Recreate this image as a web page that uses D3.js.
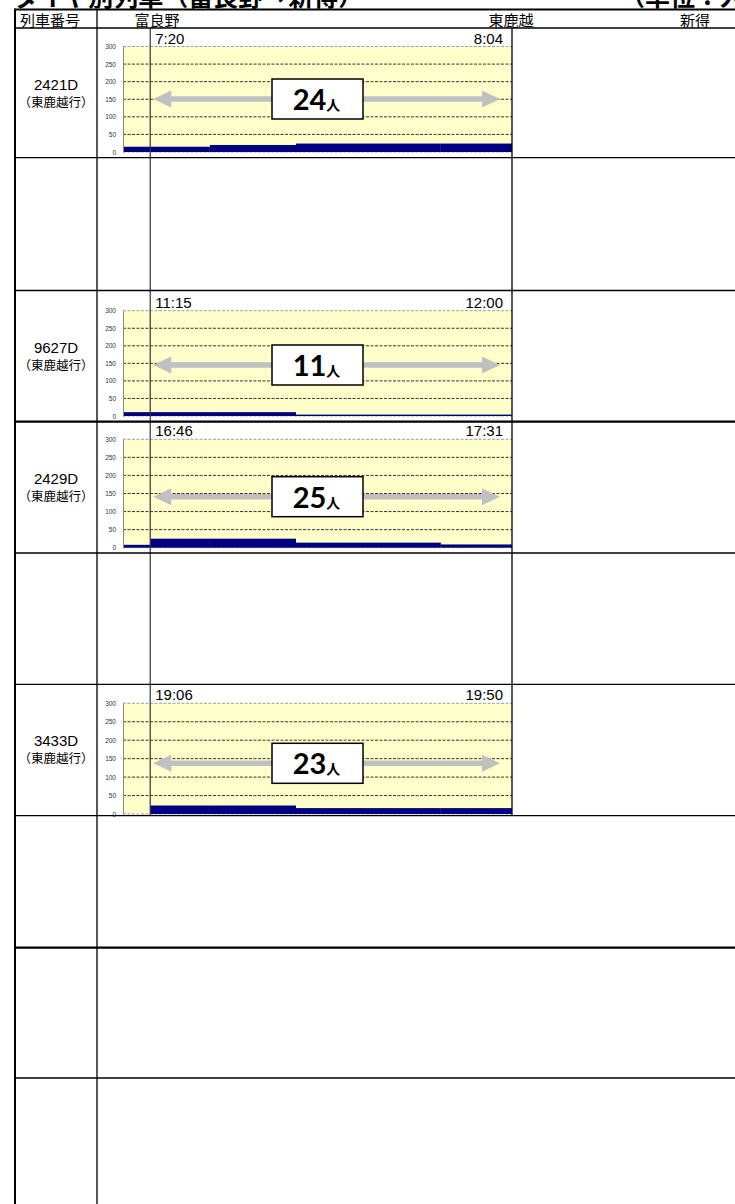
<!DOCTYPE html>
<html>
<head>
<meta charset="utf-8">
<title>列車別乗車人員</title>
<style>
body { margin: 0; background: #fff; }
svg { display: block; }
</style>
</head>
<body>
<div id="chart"></div>
<script src="https://cdn.jsdelivr.net/npm/d3@7/dist/d3.min.js"></script>
<script>

// 列車ごとの値
var trainNo = ['2421D', '9627D', '2429D', '3433D'];
var trainFor = ['（東鹿越行）', '（東鹿越行）', '（東鹿越行）', '（東鹿越行）'];
var depTime = ['7:20', '11:15', '16:46', '19:06'];
var arrTime = ['8:04', '12:00', '17:31', '19:50'];
var peakRiders = [24, 11, 25, 23];
var tableRow = [0, 2, 3, 5];   // 何段目に入るか

// 区間の境界 (富良野 = 0km) と区間ごとの乗車人員
var sectionKm = [-3.1, 0, 6.8, 16.6, 33.1, 41.2];
var riders2421D = [15, 15, 20, 24, 24];
var riders9627D = [11, 11, 11, 4, 4];
var riders2429D = [8, 25, 25, 14, 9];
var riders3433D = [0, 23, 23, 16, 16];
var riders = [riders2421D, riders9627D, riders2429D, riders3433D];

var yTicks = [0, 50, 100, 150, 200, 250, 300];
var headLabels = ['列車番号', '富良野', '東鹿越', '新得'];

// レイアウト
var W = 735, H = 1204;
var tableTop = 9.5, leftX = 15, colX = 97;
var rowY = [28, 157.7, 290.5, 421.7, 553, 684.3, 815.7, 947.7, 1078];
var rowW = [1.5, 1.3, 1.3, 2.2, 1.5, 1.3, 1.3, 2.2, 1.3];
var headX = [50, 157, 511, 695];
var plotTop = [46.5, 310.7, 439.3, 703.3];
var plotBot = [152, 416, 547.7, 814];
var arrowY = [99, 365, 496.7, 763.3];
var boxX = 272, boxW = 91, boxH = 40;

var jp = '"Noto Sans CJK JP", sans-serif';
var num = '"Liberation Sans", Arial, sans-serif';

var svg = d3.select('#chart')
  .append('svg')
  .attr('width', W)
  .attr('height', H);

var xScale = d3.scaleLinear()
  .domain([sectionKm[0], sectionKm[sectionKm.length - 1]])
  .range([123, 512]);

// タイトル (上が切れている)
svg.append('text')
  .attr('x', 14).attr('y', 6)
  .style('font-family', jp).style('font-weight', 'bold').style('font-size', '25px')
  .text('ダイヤ別列車（富良野→新得）');
svg.append('text')
  .attr('x', 620).attr('y', 6)
  .style('font-family', jp).style('font-weight', 'bold').style('font-size', '25px')
  .text('（単位：人）');

// 表の見出し
headLabels.forEach(function(t, i) {
  svg.append('text')
    .attr('x', headX[i]).attr('y', 25.5)
    .attr('text-anchor', 'middle')
    .style('font-family', jp).style('font-size', '15px')
    .text(t);
});

// 列車ごとのグラフ
trainNo.forEach(function(no, i) {
  var r = tableRow[i];
  var rowTop = rowY[r];
  var g = svg.append('g');

  var y = d3.scaleLinear()
    .domain([0, 300])
    .range([plotBot[i], plotTop[i]]);

  // 列車番号
  g.append('text')
    .attr('x', 56).attr('y', rowTop + 62)
    .attr('text-anchor', 'middle')
    .style('font-family', num).style('font-size', '15px')
    .text(no);
  g.append('text')
    .attr('x', 56).attr('y', rowTop + 79)
    .attr('text-anchor', 'middle')
    .style('font-family', jp).style('font-size', '12.5px')
    .text(trainFor[i]);

  // 背景
  g.append('rect')
    .attr('x', xScale.range()[0]).attr('y', plotTop[i])
    .attr('width', xScale.range()[1] - xScale.range()[0])
    .attr('height', plotBot[i] - plotTop[i])
    .attr('fill', '#FFFFCC');

  // 目盛線
  g.selectAll('.grid')
    .data(yTicks)
    .enter().append('line')
    .attr('x1', xScale.range()[0]).attr('x2', xScale.range()[1])
    .attr('y1', function(d) { return y(d); })
    .attr('y2', function(d) { return y(d); })
    .attr('stroke', function(d) { return (d == 0 || d == 300) ? '#888' : '#000'; })
    .attr('stroke-width', 0.8)
    .attr('stroke-dasharray', '3,1.5');

  // 乗車人員
  g.selectAll('.bar')
    .data(riders[i])
    .enter().append('rect')
    .attr('x', function(d, j) { return xScale(sectionKm[j]); })
    .attr('width', function(d, j) { return xScale(sectionKm[j + 1]) - xScale(sectionKm[j]); })
    .attr('y', function(d) { return y(d); })
    .attr('height', function(d) { return y(0) - y(d); })
    .attr('fill', '#000080');

  // 縦軸
  var axis = g.append('g')
    .attr('transform', 'translate(' + xScale.range()[0] + ',0)')
    .call(d3.axisLeft(y).tickValues(yTicks).tickSize(0).tickPadding(7));
  axis.select('.domain').attr('stroke', '#888');
  axis.selectAll('text')
    .style('font-family', num).style('font-size', '6.5px').attr('fill', '#333');

  // 発着時刻
  g.append('text')
    .attr('x', xScale(0) + 5).attr('y', plotTop[i] - 3)
    .style('font-family', num).style('font-size', '15px')
    .text(depTime[i]);
  g.append('text')
    .attr('x', xScale.range()[1] - 9).attr('y', plotTop[i] - 3)
    .attr('text-anchor', 'end')
    .style('font-family', num).style('font-size', '15px')
    .text(arrTime[i]);

  // 両矢印
  var x1 = xScale(0) + 3, x2 = xScale.range()[1] - 12;
  var yc = arrowY[i], hl = 18, hh = 8.5, sw = 2.8;
  var pts = [[x1, yc], [x1 + hl, yc - hh], [x1 + hl, yc - sw], [x2 - hl, yc - sw], [x2 - hl, yc - hh],
             [x2, yc], [x2 - hl, yc + hh], [x2 - hl, yc + sw], [x1 + hl, yc + sw], [x1 + hl, yc + hh]];
  g.append('path')
    .attr('d', d3.line()(pts) + 'Z')
    .attr('fill', '#C0C0C0');

  // 人数の箱
  g.append('rect')
    .attr('x', boxX).attr('y', yc - boxH / 2)
    .attr('width', boxW).attr('height', boxH)
    .attr('fill', '#fff').attr('stroke', '#000').attr('stroke-width', 1.5);
  var t = g.append('text')
    .attr('x', boxX + boxW / 2 - 1).attr('y', yc + 11)
    .attr('text-anchor', 'middle')
    .style('font-weight', 'bold');
  t.append('tspan')
    .style('font-family', 'Lato, "Open Sans", sans-serif').style('font-size', '29px')
    .text(peakRiders[i]);
  t.append('tspan')
    .style('font-family', jp).style('font-size', '14px')
    .text('人');
});

// 駅の縦線
svg.append('line')
  .attr('x1', xScale(0)).attr('x2', xScale(0))
  .attr('y1', rowY[0]).attr('y2', rowY[6])
  .attr('stroke', '#333').attr('stroke-width', 1.2);
svg.append('line')
  .attr('x1', xScale.range()[1]).attr('x2', xScale.range()[1])
  .attr('y1', rowY[0]).attr('y2', rowY[6])
  .attr('stroke', '#000').attr('stroke-width', 1.3);

// 罫線
svg.append('line')
  .attr('x1', leftX).attr('x2', W).attr('y1', tableTop).attr('y2', tableTop)
  .attr('stroke', '#000').attr('stroke-width', 2);
rowY.forEach(function(yy, k) {
  svg.append('line')
    .attr('x1', leftX).attr('x2', W).attr('y1', yy).attr('y2', yy)
    .attr('stroke', '#000').attr('stroke-width', rowW[k]);
});
svg.append('line')
  .attr('x1', leftX).attr('x2', leftX).attr('y1', tableTop - 1).attr('y2', H)
  .attr('stroke', '#000').attr('stroke-width', 2);
svg.append('line')
  .attr('x1', colX).attr('x2', colX).attr('y1', tableTop).attr('y2', H)
  .attr('stroke', '#000').attr('stroke-width', 1.3);

</script>
</body>
</html>
